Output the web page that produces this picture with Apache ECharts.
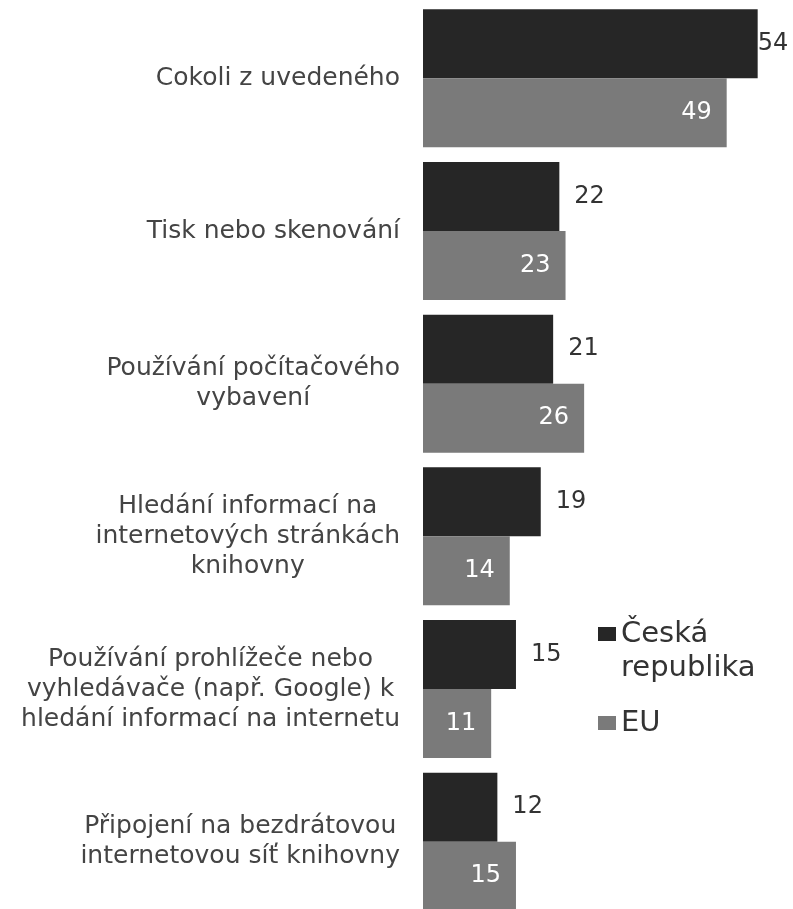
<!DOCTYPE html>
<html>
<head>
<meta charset="utf-8">
<script src="https://cdn.jsdelivr.net/npm/echarts@6/dist/echarts.min.js"></script>
<style>
  html, body { margin: 0; padding: 0; background: #fff; overflow: hidden; }
  /* o kousek vyšší než okno: poslední sloupec EU je dole oříznutý */
  #chart { width: 793px; height: 918px; }
</style>
</head>
<body>
<div id="chart"></div>
<script>
var categories = [
    "Cokoli z uvedeného",
    "Tisk nebo skenování",
    "Používání počítačového\nvybavení",
    "Hledání informací na\ninternetových stránkách\nknihovny",
    "Používání prohlížeče nebo\nvyhledávače (např. Google) k\nhledání informací na internetu",
    "Připojení na bezdrátovou\ninternetovou síť knihovny"
];
var seriesNames = ["Česká republika", "EU"];
var czValues = [54, 22, 21, 19, 15, 12];
var euValues = [49, 23, 26, 14, 11, 15];

var chartDom = document.getElementById("chart");
var chart = echarts.init(chartDom);
var font = "DejaVu Sans";

// 54 sedí hned u konce sloupce, ostatní popisky s mezerou
var czData = czValues.map(function (v, i) {
    return {
        value: v,
        label: { distance: i === 0 ? 0 : 15 }
    };
});

var option = {
    animation: false,
    backgroundColor: "#fff",
    textStyle: { fontFamily: font },
    grid: {
        left: 423,
        right: 0,
        top: 2,
        bottom: 0,
        containLabel: false
    },
    legend: {
        orient: "vertical",
        left: 598,
        top: 583,
        padding: 0,
        itemWidth: 18,
        itemHeight: 14,
        itemGap: 21,
        icon: "rect",
        // prázdný první řádek -> ikona vychází na řádek "Česká"
        formatter: function (name) {
            if (name.indexOf(" ") < 0) return name;
            return "\n" + name.replace(" ", "\n");
        },
        textStyle: {
            fontFamily: font,
            fontSize: 29,
            lineHeight: 34,
            color: "#333"
        },
        data: seriesNames
    },
    xAxis: {
        type: "value",
        min: 0,
        max: 59.7,
        show: false
    },
    yAxis: {
        type: "category",
        inverse: true,
        data: categories,
        axisLine: { show: false },
        axisTick: { show: false },
        splitLine: { show: false },
        axisLabel: {
            margin: 23,
            align: "right",
            fontFamily: font,
            fontSize: 25,
            lineHeight: 30,
            color: "#444",
            formatter: function (val) {
                return val.split("\n").map(function (line) {
                    return "{c|" + line + "}";
                }).join("\n");
            },
            rich: {
                c: {
                    align: "center",
                    fontFamily: font,
                    fontSize: 25,
                    lineHeight: 30,
                    color: "#444"
                }
            }
        }
    },
    series: [
        {
            name: seriesNames[0],
            type: "bar",
            barWidth: 69,
            barGap: "0%",
            itemStyle: { color: "#262626" },
            label: {
                show: true,
                position: "right",
                fontFamily: font,
                fontSize: 24,
                color: "#333"
            },
            data: czData
        },
        {
            name: seriesNames[1],
            type: "bar",
            barWidth: 69,
            barGap: "0%",
            itemStyle: { color: "#7a7a7a" },
            label: {
                show: true,
                position: "insideRight",
                distance: 15,
                fontFamily: font,
                fontSize: 24,
                color: "#fff"
            },
            data: euValues
        }
    ]
};

chart.setOption(option);
</script>
</body>
</html>
